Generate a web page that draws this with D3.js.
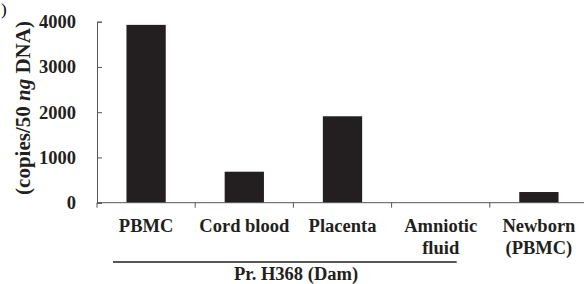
<!DOCTYPE html>
<html lang="en">
<head>
  <meta charset="UTF-8">
  <title>Copies per 50 ng DNA</title>
  <style>
    body { margin: 0; background: #fff; }
    svg { display: block; font-family: "Liberation Serif", "Times New Roman", serif; font-weight: bold; }
  </style>
  <script src="https://d3js.org/d3.v7.min.js"></script>
</head>
<body>
  <div id="chart"></div>
  <script>
  const categories = ['PBMC', 'Cord blood', 'Placenta', 'Amniotic fluid', 'Newborn (PBMC)'];
  const labelLines = [['PBMC'], ['Cord blood'], ['Placenta'], ['Amniotic', 'fluid'], ['Newborn', '(PBMC)']];
  const values = [3930, 685, 1910, 0, 236];
  const yTicks = [0, 1000, 2000, 3000, 4000];
  const damGroup = ['PBMC', 'Cord blood', 'Placenta', 'Amniotic fluid'];
  const damLabel = 'Pr. H368 (Dam)';

  const W = 584, H = 284;
  const svg = d3.select('#chart').append('svg').attr('width', W).attr('height', H);

  const x = d3.scaleBand().domain(categories).range([97, 588]);
  const y = d3.scaleLinear().domain([0, 4000]).range([202.7, 21.7]);
  const barW = x.bandwidth() * 0.4;

  // panel letter remnant at the top-left
  svg.append('text').attr('x', 1).attr('y', 15)
    .style('font-size', '17px').style('font-weight', 'normal').text(')');

  // bars
  svg.selectAll('rect.bar').data(values).join('rect')
    .attr('class', 'bar')
    .attr('x', (d, i) => x(categories[i]) + (x.bandwidth() - barW) / 2)
    .attr('y', d => y(d))
    .attr('width', barW)
    .attr('height', d => y(0) - y(d))
    .attr('fill', '#231f20');

  // y axis, ticks point inward
  const gy = svg.append('g').attr('transform', 'translate(97,0)')
    .call(d3.axisLeft(y).tickValues(yTicks).tickFormat(d3.format('d'))
      .tickSizeInner(-5).tickSizeOuter(-5).tickPadding(21));
  gy.selectAll('path, line').attr('stroke', '#555');
  gy.selectAll('text').attr('fill', '#231f20')
    .style('font-size', '18.5px').style('font-family', '"Liberation Serif", serif');

  // x axis line with ticks between categories
  svg.append('line').attr('x1', 97).attr('x2', W).attr('y1', y(0)).attr('y2', y(0))
    .attr('stroke', '#555');
  svg.selectAll('line.xt').data(categories).join('line')
    .attr('class', 'xt')
    .attr('x1', d => x(d)).attr('x2', d => x(d))
    .attr('y1', y(0)).attr('y2', y(0) + 5)
    .attr('stroke', '#555');

  // category labels
  const lab = svg.selectAll('text.cat').data(labelLines).join('text')
    .attr('class', 'cat')
    .attr('text-anchor', 'middle')
    .attr('fill', '#231f20')
    .style('font-size', '18.5px');
  lab.selectAll('tspan').data((d, i) => d.map(t => ({ t, i }))).join('tspan')
    .attr('x', d => x(categories[d.i]) + x.bandwidth() / 2)
    .attr('y', (d, j) => 232 + j * 22)
    .text(d => d.t);

  // y label
  const yl = svg.append('text')
    .attr('transform', 'translate(30,108) rotate(-90)')
    .attr('text-anchor', 'middle')
    .attr('fill', '#231f20')
    .style('font-size', '21px');
  yl.append('tspan').text('(copies/50 ');
  yl.append('tspan').style('font-style', 'italic').text('ng');
  yl.append('tspan').text(' DNA)');

  // dam group bracket
  const gx0 = x(damGroup[0]) + 16, gx1 = x(damGroup[damGroup.length - 1]) + x.bandwidth() / 2 + 16;
  svg.append('line').attr('x1', gx0).attr('x2', gx1).attr('y1', 262).attr('y2', 262)
    .attr('stroke', '#231f20').attr('stroke-width', 1.5);
  svg.append('text').attr('x', 296).attr('y', 280)
    .attr('text-anchor', 'middle').attr('fill', '#231f20')
    .style('font-size', '18.5px').text(damLabel);
  </script>
</body>
</html>
